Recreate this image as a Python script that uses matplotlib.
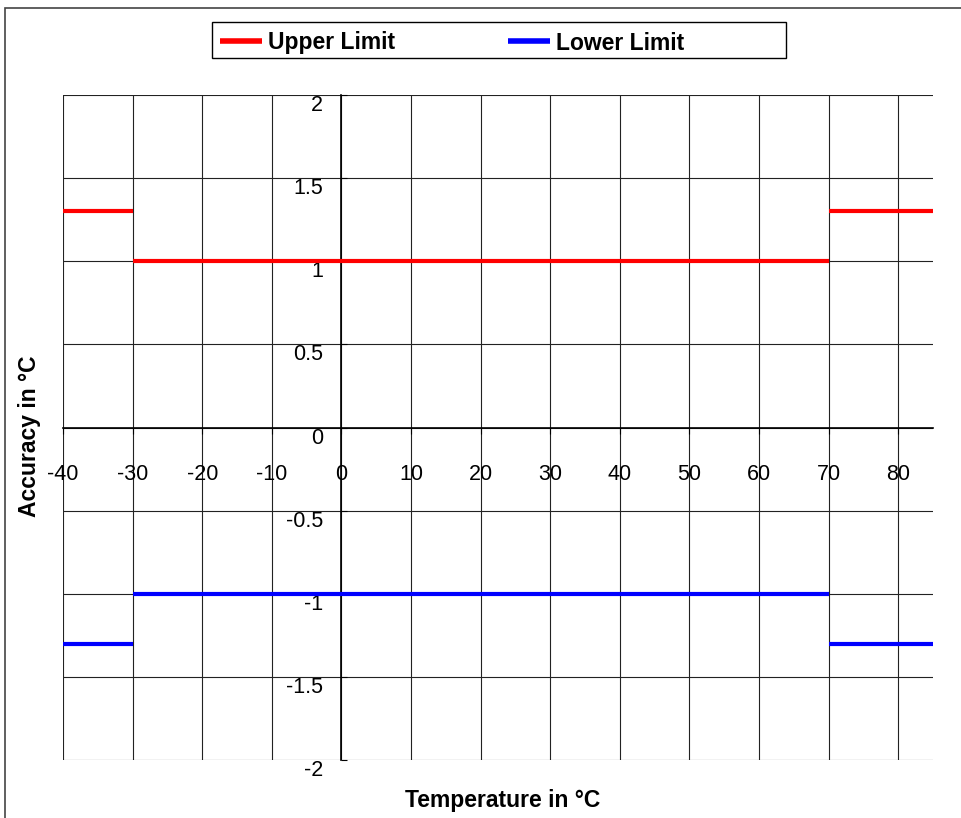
import matplotlib.pyplot as plt
from matplotlib.patches import Rectangle

plt.rcParams['font.family'] = ['Liberation Sans', 'DejaVu Sans']
plt.rcParams['axes.unicode_minus'] = False

# step limits: breakpoints in degC, limit value per segment
temp_breaks = [-40, -30, 70, 85]
upper_limit = [1.3, 1.0, 1.3]
lower_limit = [-1.3, -1.0, -1.3]

x_ticks = list(range(-40, 90, 10))
y_ticks = [-2, -1.5, -1, -0.5, 0, 0.5, 1, 1.5, 2]
y_tick_labels = ['-2', '-1.5', '-1', '-0.5', '0', '0.5', '1', '1.5', '2']

W, H = 961, 818
fig = plt.figure(figsize=(W / 100, H / 100), dpi=100)
ax = fig.add_axes([63 / W, (H - 760) / H, (933 - 63) / W, (760 - 95) / H])

ax.hlines(upper_limit, temp_breaks[:-1], temp_breaks[1:], colors='#ff0000',
          lw=3, label='Upper Limit', zorder=3)
ax.hlines(lower_limit, temp_breaks[:-1], temp_breaks[1:], colors='#0000ff',
          lw=3, label='Lower Limit', zorder=3)

ax.set_xlim(-40, 85)
ax.set_ylim(-2, 2)
ax.set_xticks(x_ticks)
ax.set_yticks(y_ticks)
ax.set_yticklabels(y_tick_labels)
ax.grid(True, color='#222222', lw=0.8)
ax.set_axisbelow(True)

for s in ['top', 'right']:
    ax.spines[s].set_visible(False)
ax.spines['left'].set_position(('data', 0))
ax.spines['bottom'].set_position(('data', 0))
ax.spines['left'].set_linewidth(1.2)
ax.spines['bottom'].set_linewidth(1.2)

ax.tick_params(axis='x', direction='out', length=4, pad=22, labelsize=15.5)
ax.tick_params(axis='y', direction='in', length=4, pad=13, labelsize=15.5)
for lab in ax.get_yticklabels():
    lab.set_verticalalignment('top')

fig.text(503 / W, 1 - 800 / H, 'Temperature in °C', ha='center', va='center',
         fontsize=16.5, fontweight='bold')
fig.text(30 / W, 1 - 436 / H, 'Accuracy in °C', ha='center', va='center',
         fontsize=16.5, fontweight='bold', rotation=90)

# legend box drawn separately, entries sit at its left
fig.patches.append(Rectangle((212 / W, 1 - 58 / H), 574 / W, 36 / H,
                             transform=fig.transFigure, fill=False,
                             edgecolor='black', lw=1.0))
leg = fig.legend(loc='center left', ncol=2, frameon=False,
                 bbox_to_anchor=(220 / W, 1 - 43 / H),
                 borderaxespad=0, borderpad=0,
                 prop={'size': 16.5, 'weight': 'bold'}, handlelength=1.85,
                 handletextpad=0.25, columnspacing=4.9)
for h in leg.legend_handles:
    h.set_linewidth(4)

fig.patches.append(Rectangle((5 / W, -0.1), 1.1, 1 - 8 / H + 0.1,
                             transform=fig.transFigure, fill=False,
                             edgecolor='#444444', lw=1.2))

fig.savefig('out.png', dpi=100)
